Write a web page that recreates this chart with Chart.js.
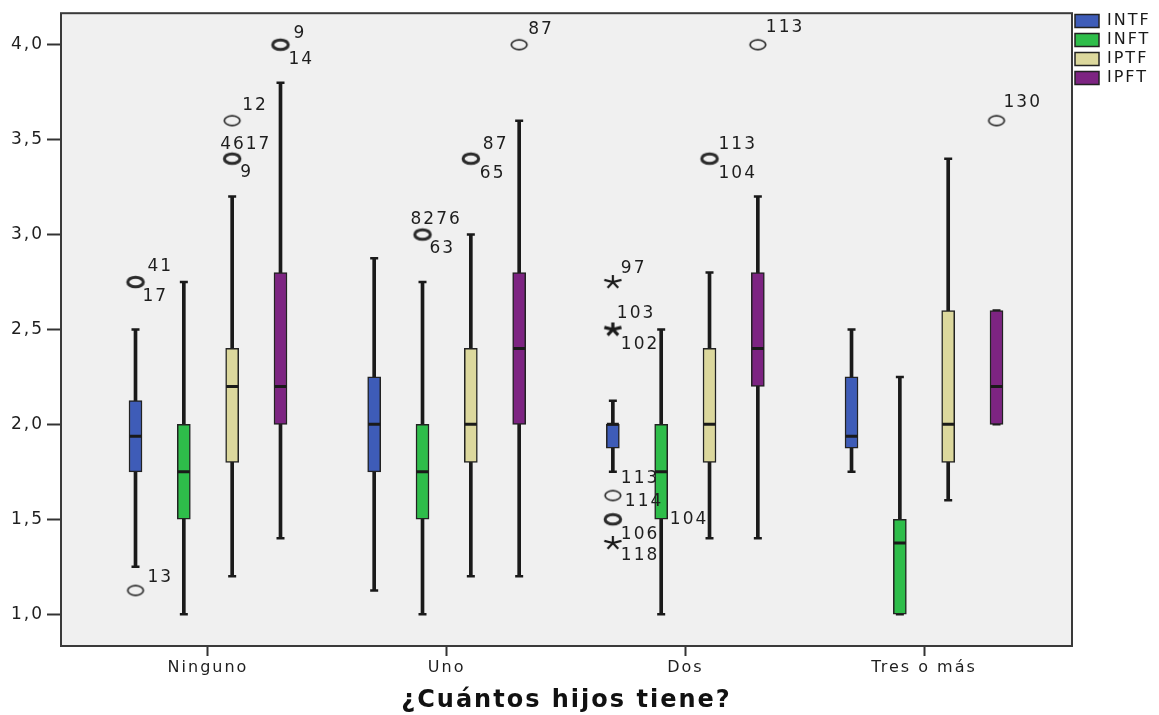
<!DOCTYPE html>
<html>
<head>
<meta charset="utf-8">
<script src="https://cdn.jsdelivr.net/npm/chart.js@4.4.1/dist/chart.umd.min.js"></script>
<style>
  html, body { margin: 0; padding: 0; background: #ffffff; }
  canvas { display: block; }
</style>
</head>
<body>
<canvas id="c" width="1159" height="715"></canvas>
<script>
// ---------------- DATA ----------------
const categories = ['Ninguno', 'Uno', 'Dos', 'Tres o más'];
const seriesNames = ['INTF', 'INFT', 'IPTF', 'IPFT'];
const yTickValues = [1.0, 1.5, 2.0, 2.5, 3.0, 3.5, 4.0];
const yTickLabels = ['1,0', '1,5', '2,0', '2,5', '3,0', '3,5', '4,0'];
const xAxisTitle = '¿Cuántos hijos tiene?';

// INTF
const intfLow  = [1.25, 1.125, 1.75, 1.75];
const intfQ1   = [1.75, 1.75, 1.875, 1.875];
const intfMed  = [1.9375, 2.0, 2.0, 1.9375];
const intfQ3   = [2.125, 2.25, 2.0, 2.25];
const intfHigh = [2.5, 2.875, 2.125, 2.5];
// INFT
const inftLow  = [1.0, 1.0, 1.0, 1.0];
const inftQ1   = [1.5, 1.5, 1.5, 1.0];
const inftMed  = [1.75, 1.75, 1.75, 1.375];
const inftQ3   = [2.0, 2.0, 2.0, 1.5];
const inftHigh = [2.75, 2.75, 2.5, 2.25];
// IPTF
const iptfLow  = [1.2, 1.2, 1.4, 1.6];
const iptfQ1   = [1.8, 1.8, 1.8, 1.8];
const iptfMed  = [2.2, 2.0, 2.0, 2.0];
const iptfQ3   = [2.4, 2.4, 2.4, 2.6];
const iptfHigh = [3.2, 3.0, 2.8, 3.4];
// IPFT
const ipftLow  = [1.4, 1.2, 1.4, 2.0];
const ipftQ1   = [2.0, 2.0, 2.2, 2.0];
const ipftMed  = [2.2, 2.4, 2.4, 2.2];
const ipftQ3   = [2.8, 2.8, 2.8, 2.6];
const ipftHigh = [3.8, 3.6, 3.2, 2.6];

// Outliers (category index, series index, value, marker kind, overlapping cases)
const outlierCategory = [0, 0, 0, 0, 0, 1, 1, 1, 2, 2, 2, 2, 2, 2, 2, 3];
const outlierSeries   = [0, 0, 2, 2, 3, 1, 2, 3, 0, 0, 0, 0, 0, 2, 3, 3];
const outlierValue    = [2.75, 1.125, 3.6, 3.4, 4.0, 3.0, 3.4, 4.0, 2.75, 2.5, 1.625, 1.5, 1.375, 3.4, 4.0, 3.6];
const outlierKind     = ['o', 'o', 'o', 'o', 'o', 'o', 'o', 'o', '*', '*', 'o', 'o', '*', 'o', 'o', 'o'];
const outlierOverlap  = [true, false, false, true, true, true, true, false, false, true, false, true, false, true, false, false];

// Case-number labels of the outliers
const labelText    = ['41', '17', '13', '12', '4617', '9', '9', '14', '8276', '63', '87', '65', '87', '97', '103', '102', '113', '114', '106', '104', '118', '113', '104', '113', '130'];
const labelOutlier = [0, 0, 1, 2, 3, 3, 4, 4, 5, 5, 6, 6, 7, 8, 9, 9, 10, 10, 11, 11, 12, 13, 13, 14, 15];

// ---------------- LAYOUT / STYLE ----------------
const labelDx = [12, 7, 12, 10, -12, 8, 13, 8, -12, 7, 12, 9, 9, 8, 4, 8, 8, 12, 8, 57, 8, 9, 9, 8, 7];
const labelDy = [-15, 15, -13, -15, -14, 14, -11, 15, -15, 14, -14, 15, -15, -13, -16, 15, -17, 6, 15, 0, 13, -14, 15, -17, -18];
const groupSpacing = 0.2025;
const seriesOffset = [-1.5, -0.5, 0.5, 1.5].map(k => k * groupSpacing);
const seriesColors = ['#3e5cb8', '#2ebd4a', '#dcd89d', '#7d2482'];
const INK = '#1a1a1a';
const FONT = 'DejaVu Sans';
const SPACING = '2px';

const stats = [
  [intfLow, intfQ1, intfMed, intfQ3, intfHigh],
  [inftLow, inftQ1, inftMed, inftQ3, inftHigh],
  [iptfLow, iptfQ1, iptfMed, iptfQ3, iptfHigh],
  [ipftLow, ipftQ1, ipftMed, ipftQ3, ipftHigh]
];

function makeEllipse(lw) {
  const c = document.createElement('canvas');
  c.width = 22; c.height = 16;
  const g = c.getContext('2d');
  g.strokeStyle = '#2a2a2a'; g.lineWidth = lw;
  g.beginPath(); g.ellipse(11, 8, 7.8, 4.8, 0, 0, Math.PI * 2); g.stroke();
  return c;
}
function makeStar(lw) {
  const c = document.createElement('canvas');
  c.width = 22; c.height = 18;
  const g = c.getContext('2d');
  g.strokeStyle = '#1a1a1a'; g.lineWidth = lw; g.lineCap = 'butt';
  g.beginPath();
  for (let k = 0; k < 5; k++) {
    const a = (-90 + k * 72) * Math.PI / 180;
    g.moveTo(11, 9);
    g.lineTo(11 + 9 * Math.cos(a), 9 + 7 * Math.sin(a));
  }
  g.stroke();
  return c;
}
const markerStyles = {
  'o': [makeEllipse(1.7), makeEllipse(3.0)],
  '*': [makeStar(2.2), makeStar(3.2)]
};

// ---------------- DATASETS ----------------
const datasets = [];
for (let s = 0; s < seriesNames.length; s++) {
  const [lo, q1, md, q3, hi] = stats[s];
  const xs = categories.map((c, i) => i + seriesOffset[s]);
  datasets.push({
    type: 'bar', label: seriesNames[s] + ' whisker',
    data: xs.map((x, i) => ({ x: x, y: [lo[i], hi[i]] })),
    backgroundColor: INK, borderWidth: 0, barThickness: 3, grouped: false, order: 5
  });
  datasets.push({
    type: 'scatter', label: seriesNames[s] + ' caps',
    data: xs.flatMap((x, i) => [{ x: x, y: lo[i] }, { x: x, y: hi[i] }]),
    pointStyle: 'line', pointRadius: 4, pointHoverRadius: 4, borderWidth: 2.5,
    borderColor: INK, order: 4
  });
  datasets.push({
    type: 'bar', label: seriesNames[s], isBox: true,
    data: xs.map((x, i) => ({ x: x, y: [q1[i], q3[i]] })),
    backgroundColor: seriesColors[s], borderColor: '#222222', borderWidth: 1.5,
    borderSkipped: false, barThickness: 13, grouped: false, order: 2
  });
  datasets.push({
    type: 'scatter', label: seriesNames[s] + ' median',
    data: xs.map((x, i) => ({ x: x, y: md[i] })),
    pointStyle: 'line', pointRadius: 6, pointHoverRadius: 6, borderWidth: 3,
    borderColor: INK, order: 1
  });
}
datasets.push({
  type: 'scatter', label: 'outliers',
  data: outlierValue.map((v, k) => ({ x: outlierCategory[k] + seriesOffset[outlierSeries[k]], y: v })),
  pointStyle: outlierKind.map((m, k) => markerStyles[m][outlierOverlap[k] ? 1 : 0]),
  pointRadius: 6, pointHoverRadius: 6, order: 0
});

// ---------------- PLUGINS ----------------
const spacingPlugin = {
  id: 'spacing',
  beforeUpdate(chart) { chart.ctx.letterSpacing = SPACING; },
  beforeLayout(chart) { chart.ctx.letterSpacing = SPACING; },
  beforeDraw(chart) {
    const ctx = chart.ctx;
    ctx.letterSpacing = SPACING;
    const a = chart.chartArea;
    ctx.save();
    ctx.fillStyle = '#ffffff';
    ctx.fillRect(0, 0, chart.width, chart.height);
    ctx.fillStyle = '#f0f0f0';
    ctx.fillRect(a.left, a.top, a.right - a.left, a.bottom - a.top);
    ctx.restore();
  }
};
const framePlugin = {
  id: 'frame',
  afterDatasetsDraw(chart) {
    const ctx = chart.ctx, a = chart.chartArea;
    ctx.save();
    ctx.strokeStyle = '#3a3a3a';
    ctx.lineWidth = 2;
    ctx.strokeRect(a.left, a.top, a.right - a.left, a.bottom - a.top);
    // case labels
    const xs = chart.scales.x, ys = chart.scales.y;
    ctx.fillStyle = '#1e1e1e';
    ctx.font = '17px "' + FONT + '"';
    ctx.letterSpacing = SPACING;
    ctx.textAlign = 'left';
    ctx.textBaseline = 'middle';
    labelText.forEach((t, j) => {
      const k = labelOutlier[j];
      const px = xs.getPixelForValue(outlierCategory[k] + seriesOffset[outlierSeries[k]]);
      const py = ys.getPixelForValue(outlierValue[k]);
      ctx.fillText(t, px + labelDx[j], py + labelDy[j]);
    });
    ctx.restore();
  }
};

Chart.defaults.font.family = FONT;
Chart.defaults.font.size = 17;
Chart.defaults.color = '#1e1e1e';

new Chart(document.getElementById('c'), {
  type: 'bar',
  data: { datasets: datasets },
  options: {
    responsive: false,
    animation: false,
    events: [],
    layout: { padding: { top: 10, left: 0, right: 0, bottom: 0 } },
    scales: {
      x: {
        type: 'linear', min: -0.6159, max: 3.620, offset: false,
        afterBuildTicks: sc => { sc.ticks = categories.map((c, i) => ({ value: i })); },
        afterFit: sc => { sc.height = 69; },
        ticks: { autoSkip: false, maxRotation: 0, padding: 2, color: '#1e1e1e',
                 font: { size: 16 }, callback: v => categories[v] },
        grid: { offset: false, drawOnChartArea: false, drawTicks: true, tickLength: 10, tickWidth: 2, tickColor: '#333' },
        border: { display: false },
        title: { display: true, text: xAxisTitle, color: '#111',
                 font: { size: 24, weight: 'bold' }, padding: { top: 0, bottom: 0 } }
      },
      y: {
        type: 'linear', min: 0.8323, max: 4.1662,
        afterBuildTicks: sc => { sc.ticks = yTickValues.map(v => ({ value: v })); },
        afterFit: sc => { sc.width = 61; },
        ticks: { padding: 3, color: '#1e1e1e', font: { size: 17 },
                 callback: (v, i) => yTickLabels[i] },
        grid: { offset: false, drawOnChartArea: false, drawTicks: true, tickLength: 14, tickWidth: 2, tickColor: '#333' },
        border: { display: false }
      }
    },
    plugins: {
      tooltip: { enabled: false },
      legend: {
        position: 'right', align: 'start', maxWidth: 87,
        labels: {
          boxWidth: 24, boxHeight: 13, padding: 3, color: '#1a1a1a',
          font: { size: 16 },
          filter: (item, data) => !!data.datasets[item.datasetIndex].isBox
        }
      }
    }
  },
  plugins: [spacingPlugin, framePlugin]
});
</script>
</body>
</html>
